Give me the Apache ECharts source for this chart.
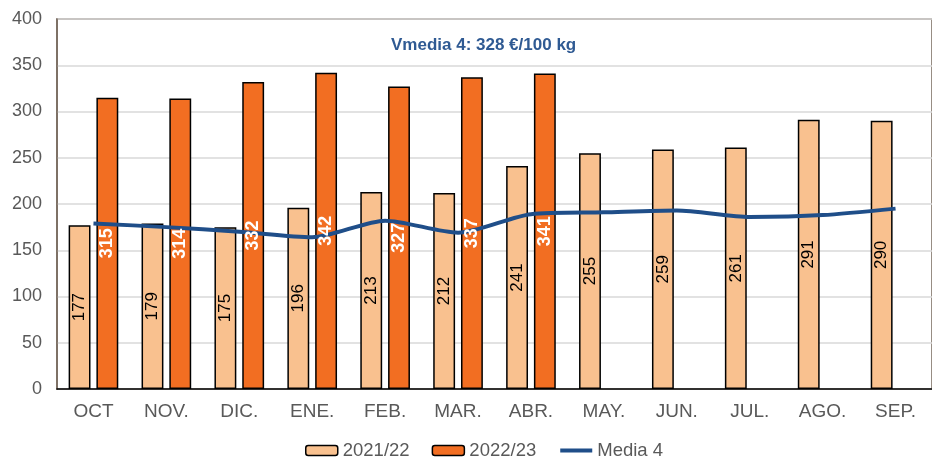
<!DOCTYPE html>
<html>
<head>
<meta charset="utf-8">
<script src="https://cdn.jsdelivr.net/npm/echarts@6/dist/echarts.min.js"></script>
<style>
html,body{margin:0;padding:0;background:#fff;}
#chart{width:932px;height:458px;}
</style>
</head>
<body>
<div id="chart"></div>
<script>
const categories = ['OCT', 'NOV.', 'DIC.', 'ENE.', 'FEB.', 'MAR.', 'ABR.', 'MAY.', 'JUN.', 'JUL.', 'AGO.', 'SEP.'];
const season2122 = [177, 179, 175, 196, 213, 212, 241, 255, 259, 261, 291, 290];
const season2223 = [315, 314, 332, 342, 327, 337, 341, null, null, null, null, null];
const media4 = [179, 175, 170, 164, 182, 169, 189, 191, 193, 186, 188, 195];
const yTicks = [0, 50, 100, 150, 200, 250, 300, 350, 400];
const titleText = 'Vmedia 4: 328 €/100 kg';

const chart = echarts.init(document.getElementById('chart'));
const font = 'Liberation Sans, Arial, sans-serif';
const lightLabel = { show: true, position: 'inside', rotate: 90, fontFamily: font, fontSize: 17, color: '#000' };
const darkLabel = { show: true, position: 'inside', rotate: 90, fontFamily: font, fontSize: 18, fontWeight: 'bold', color: '#fff' };
chart.setOption({
  animation: false,
  backgroundColor: '#ffffff',
  textStyle: { fontFamily: font },
  title: {
    text: titleText,
    left: 386, top: 32,
    textStyle: { fontFamily: font, fontSize: 17, fontWeight: 'bold', color: '#2F5A93' }
  },
  legend: {
    top: 436,
    left: 300,
    itemWidth: 32, itemHeight: 10, itemGap: 22,
    textStyle: { fontFamily: font, fontSize: 18.5, color: '#595959' },
    data: [
      { name: '2021/22', itemStyle: { borderColor: '#000', borderWidth: 1.5 } },
      { name: '2022/23', itemStyle: { borderColor: '#000', borderWidth: 1.5 } },
      { name: 'Media 4', itemStyle: { opacity: 0 }, lineStyle: { width: 4, color: '#1F4E89' } }
    ]
  },
  grid: {
    left: 57, top: 19, bottom: 69, width: 884,
    show: true, borderColor: '#76685C', borderWidth: 1.5, backgroundColor: 'transparent'
  },
  xAxis: [{
    type: 'category',
    data: categories,
    axisLine: { show: true, lineStyle: { color: '#000', width: 1.5 } },
    axisTick: { show: false },
    axisLabel: { fontFamily: font, fontSize: 19, color: '#595959', margin: 13 }
  }, {
    type: 'category',
    data: categories,
    show: false
  }],
  yAxis: {
    type: 'value',
    min: yTicks[0], max: yTicks[yTicks.length - 1], interval: 50,
    axisLine: { show: true, lineStyle: { color: '#76685C', width: 1.5 } },
    axisTick: { show: false },
    splitLine: { lineStyle: { color: '#D9D9D9', width: 1.5 } },
    axisLabel: { fontFamily: font, fontSize: 18, color: '#595959', margin: 15 }
  },
  series: [
    {
      name: '2021/22', type: 'bar', data: season2122,
      barWidth: '30%', barGap: '27%',
      itemStyle: { color: '#F9C18F', borderColor: '#000', borderWidth: 1.5 }
    },
    {
      name: '2022/23', type: 'bar', data: season2223,
      barWidth: '30%', barGap: '27%',
      itemStyle: { color: '#F26E22', borderColor: '#000', borderWidth: 1.5 }
    },
    {
      name: 'Media 4', type: 'line', data: media4,
      symbol: 'none', smooth: 0.25,
      lineStyle: { color: '#1F4E89', width: 4 },
      itemStyle: { color: '#1F4E89' },
      z: 3
    },
    {
      name: 'lab2122', type: 'bar', data: season2122, xAxisIndex: 1,
      barWidth: '30%', barGap: '27%', silent: true, z: 4,
      itemStyle: { color: 'rgba(0,0,0,0)', borderWidth: 0 },
      label: lightLabel
    },
    {
      name: 'lab2223', type: 'bar', data: season2223, xAxisIndex: 1,
      barWidth: '30%', barGap: '27%', silent: true, z: 4,
      itemStyle: { color: 'rgba(0,0,0,0)', borderWidth: 0 },
      label: darkLabel
    }
  ]
});
</script>
</body>
</html>
